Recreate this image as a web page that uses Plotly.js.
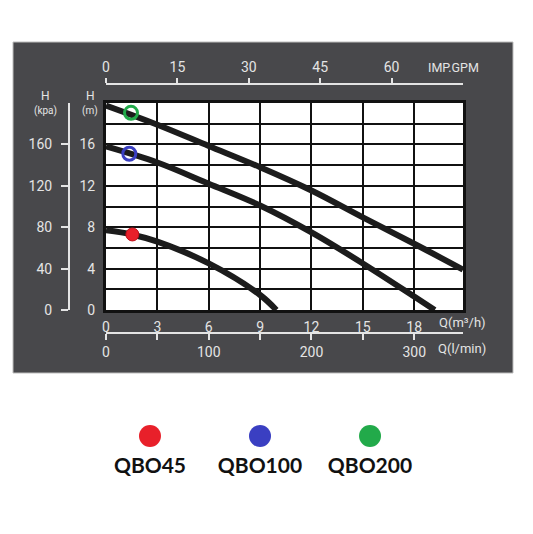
<!DOCTYPE html>
<html>
<head>
<meta charset="utf-8">
<script src="https://cdn.plot.ly/plotly-3.0.1.min.js"></script>
<style>html,body{margin:0;padding:0;background:#fff;}#chart{width:533px;height:534px;}</style>
</head>
<body>
<div id="chart"></div>
<script>
// ---- data ----
const qbo45Q  = [0, 1.5, 3, 6, 9, 9.95];
const qbo45H  = [7.7, 7.3, 6.6, 4.5, 1.45, 0];
const qbo100Q = [0, 3, 6, 9, 12, 15, 18, 19.2];
const qbo100H = [15.8, 14.25, 12.2, 10.1, 7.5, 4.5, 1.3, 0];
const qbo200Q = [0, 3, 6, 9, 12, 15, 18, 20.85];
const qbo200H = [19.75, 17.9, 15.85, 13.8, 11.55, 8.95, 6.4, 3.9];
const models  = ['QBO45', 'QBO100', 'QBO200'];
const modelColors = ['#e8202a', '#3a3fc2', '#22aa4a'];
const markerQ = [1.54, 1.36, 1.46];
const markerH = [7.3, 15.1, 19.05];
const qTicks    = [0, 3, 6, 9, 12, 15, 18];
const hTicks    = [0, 2, 4, 6, 8, 10, 12, 14, 16, 18, 20];
const hLabels   = ['0', '', '4', '', '8', '', '12', '', '16', '', ''];
const kpaTicks  = [0, 40, 80, 120, 160];
const gpmTicks  = [0, 15, 30, 45, 60];
const lminTicks = [0, 50, 100, 150, 200, 250, 300];
const lminLabels = ['0', '', '100', '', '200', '', '300'];
const qMax = 20.85, hMax = 20, kpaMax = 200, gpmMax = 75;

// ---- geometry helpers (pixel -> paper) ----
const W = 533, H = 534, ML = 60, MR = 50, MT = 60, MB = 40;
const PW = W - ML - MR, PH = H - MT - MB;
const px = v => (v - ML) / PW;
const py = v => (H - MB - v) / PH;

const axisText = '#e4e4e4';
const tickFont = {family: 'Roboto, sans-serif', size: 14, color: axisText};

const curveLine = {color: '#1c1c1c', width: 6, shape: 'spline', smoothing: 1};
const traces = [
  {x: qbo200Q, y: qbo200H, mode: 'lines', line: curveLine, hoverinfo: 'skip'},
  {x: qbo100Q, y: qbo100H, mode: 'lines', line: curveLine, hoverinfo: 'skip'},
  {x: qbo45Q,  y: qbo45H,  mode: 'lines', line: curveLine, hoverinfo: 'skip'},
  // markers on curves
  {x: [markerQ[0]], y: [markerH[0]], mode: 'markers', hoverinfo: 'skip',
   marker: {size: 13, color: modelColors[0], line: {color: '#c0101a', width: 1}}},
  {x: [markerQ[1]], y: [markerH[1]], mode: 'markers', hoverinfo: 'skip',
   marker: {size: 13, color: 'rgba(0,0,0,0)', line: {color: modelColors[1], width: 3}}},
  {x: [markerQ[2]], y: [markerH[2]], mode: 'markers', hoverinfo: 'skip',
   marker: {size: 13, color: 'rgba(0,0,0,0)', line: {color: modelColors[2], width: 3}}},
  // dummy traces to anchor the secondary axes
  {x: [], y: [], xaxis: 'x2', yaxis: 'y', hoverinfo: 'skip'},
  {x: [], y: [], xaxis: 'x3', yaxis: 'y', hoverinfo: 'skip'},
  {x: [], y: [], xaxis: 'x', yaxis: 'y2', hoverinfo: 'skip'},
  // legend: dots row and labels row
  {x: models, y: [1, 1, 1], xaxis: 'x4', yaxis: 'y4', mode: 'markers', cliponaxis: false,
   hoverinfo: 'skip', marker: {size: 22, color: modelColors}},
  {x: models, y: [0, 0, 0], xaxis: 'x4', yaxis: 'y4', mode: 'text', cliponaxis: false,
   text: models, textposition: 'middle center', hoverinfo: 'skip',
   textfont: {family: 'Lato, sans-serif', size: 21, color: '#111', weight: 'bold'}}
];

const xDom = [px(106), px(463)];
const yDom = [py(310), py(103)];

const layout = {
  width: W, height: H,
  margin: {l: ML, r: MR, t: MT, b: MB, pad: 0},
  paper_bgcolor: '#ffffff',
  plot_bgcolor: 'rgba(0,0,0,0)',
  showlegend: false,
  font: {family: 'Roboto, sans-serif', color: axisText},
  xaxis: {
    domain: xDom, range: [0, qMax], tickvals: qTicks, ticks: '',
    showgrid: true, gridcolor: '#111', gridwidth: 2,
    showline: true, linecolor: '#111', linewidth: 3, mirror: true,
    zeroline: false, tickfont: tickFont, ticklabelstandoff: 2, fixedrange: true
  },
  yaxis: {
    domain: yDom, range: [0, hMax], tickvals: hTicks, ticktext: hLabels, ticks: '',
    showgrid: true, gridcolor: '#111', gridwidth: 2,
    showline: true, linecolor: '#111', linewidth: 3, mirror: true,
    zeroline: false, tickfont: tickFont, ticklabelstandoff: 5, fixedrange: true
  },
  xaxis2: {
    overlaying: 'x', side: 'top', anchor: 'free', position: py(84),
    range: [0, gpmMax], tickvals: gpmTicks, ticks: 'outside', ticklen: 5, tickwidth: 2,
    tickcolor: axisText, showline: true, linecolor: axisText, linewidth: 2,
    showgrid: false, zeroline: false, tickfont: tickFont, fixedrange: true
  },
  xaxis3: {
    overlaying: 'x', side: 'bottom', anchor: 'free', position: py(333),
    range: [0, qMax * 1000 / 60], tickvals: lminTicks, ticktext: lminLabels,
    ticks: 'outside', ticklen: 6, tickwidth: 2, tickcolor: axisText,
    showline: true, linecolor: axisText, linewidth: 2,
    showgrid: false, zeroline: false, tickfont: tickFont, fixedrange: true
  },
  yaxis2: {
    overlaying: 'y', side: 'left', anchor: 'free', position: px(69),
    range: [0, kpaMax], tickvals: kpaTicks, ticks: 'outside', ticklen: 7, tickwidth: 2,
    tickcolor: axisText, showline: true, linecolor: axisText, linewidth: 2,
    showgrid: false, zeroline: false, tickfont: tickFont, ticklabelstandoff: 6, fixedrange: true
  },
  xaxis4: {domain: [0, 1], anchor: 'y4', type: 'category', range: [-0.818, 3.027],
    visible: false, fixedrange: true},
  yaxis4: {domain: [py(484), py(420)], anchor: 'x4', range: [-0.5, 1.5],
    visible: false, fixedrange: true},
  shapes: [
    {type: 'rect', xref: 'paper', yref: 'paper', layer: 'below',
     x0: px(13), x1: px(513), y0: py(373), y1: py(42),
     fillcolor: '#48484b', line: {color: '#bdbdbd', width: 1}},
    {type: 'rect', xref: 'paper', yref: 'paper', layer: 'below',
     x0: xDom[0], x1: xDom[1], y0: yDom[0], y1: yDom[1],
     fillcolor: '#ffffff', line: {width: 0}}
  ],
  annotations: [
    {text: 'H', x: px(45), y: py(96), font: {size: 12, color: axisText}},
    {text: '(kpa)', x: px(45), y: py(111), font: {size: 10, color: axisText}},
    {text: 'H', x: px(90), y: py(96), font: {size: 12, color: axisText}},
    {text: '(m)', x: px(90), y: py(111), font: {size: 10, color: axisText}},
    {text: 'IMP.GPM', x: px(453), y: py(67), font: {size: 12.5, color: axisText}},
    {text: 'Q(m³/h)', x: px(462), y: py(322), font: {size: 13, color: axisText}},
    {text: 'Q(l/min)', x: px(462), y: py(348), font: {size: 13, color: axisText}}
  ].map(a => Object.assign({xref: 'paper', yref: 'paper', showarrow: false,
                            xanchor: 'center', yanchor: 'middle'}, a))
};

Plotly.newPlot('chart', traces, layout, {displayModeBar: false, staticPlot: true});
</script>
</body>
</html>
